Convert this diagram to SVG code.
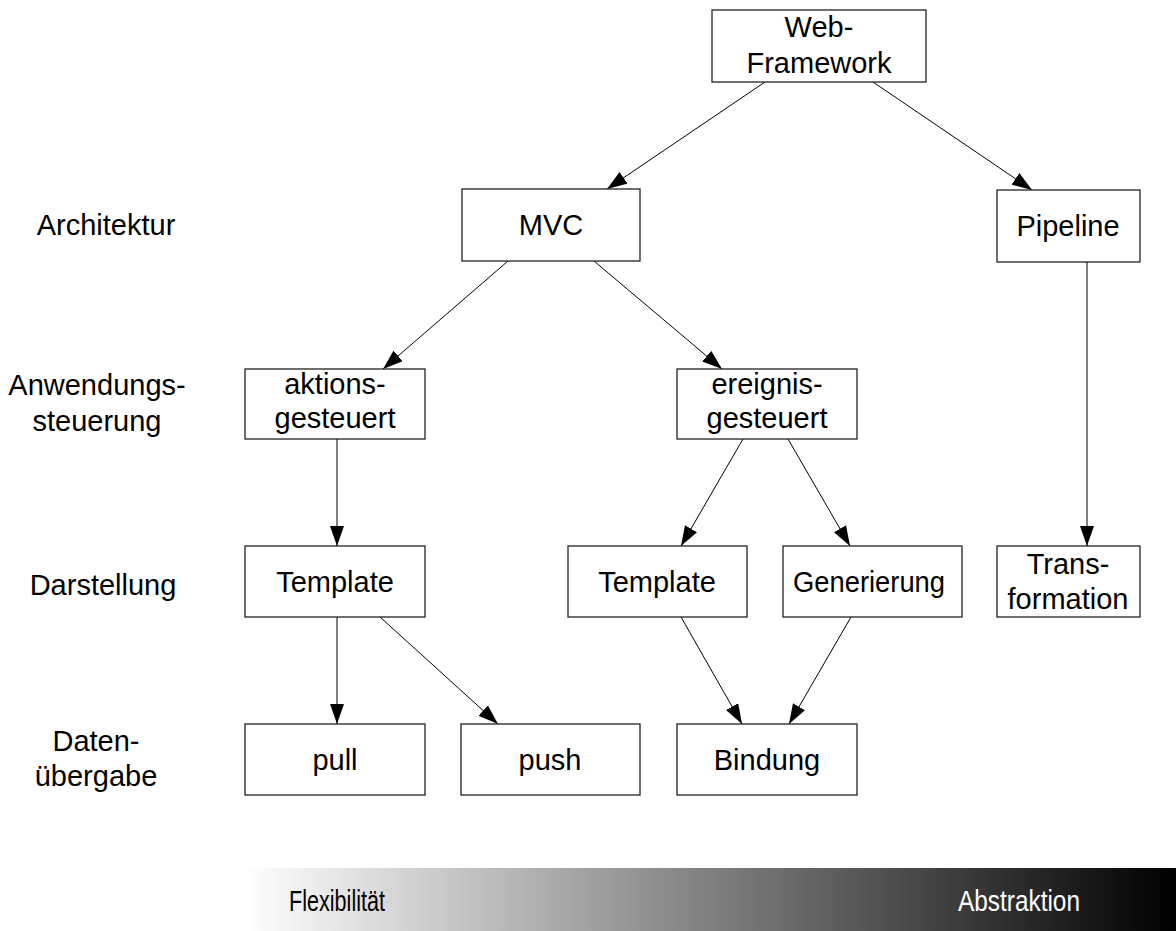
<svg xmlns="http://www.w3.org/2000/svg" width="1176" height="931" viewBox="0 0 1176 931">
  <defs>
    <marker id="arrow" markerUnits="userSpaceOnUse" markerWidth="20" markerHeight="14" refX="20" refY="7" orient="auto">
      <path d="M0,0 L20,7 L0,14 z" fill="#000"/>
    </marker>
    <linearGradient id="scale" gradientUnits="userSpaceOnUse" x1="245" y1="0" x2="1176" y2="0">
      <stop offset="0" stop-color="#ffffff"/>
      <stop offset="1" stop-color="#000000"/>
    </linearGradient>
    <style>
      text { font-family: "Liberation Sans", Arial, sans-serif; font-size: 29px; fill: #000; text-anchor: middle; }
      .box { fill: #fff; stroke: #222; stroke-width: 1.3; }
      .edge { stroke: #000; stroke-width: 1; fill: none; marker-end: url(#arrow); }
    </style>
  </defs>

  <rect width="1176" height="931" fill="#fff"/>

  <!-- level labels -->
  <g id="levels">
    <text x="106" y="235">Architektur</text>
    <text x="97" y="395">Anwendungs-</text>
    <text x="97" y="431">steuerung</text>
    <text x="103" y="595">Darstellung</text>
    <text x="96" y="751">Daten-</text>
    <text x="96" y="786">übergabe</text>
  </g>

  <!-- connectors -->
  <g id="connectors">
    <line class="edge" x1="765" y1="82" x2="607" y2="189"/>
    <line class="edge" x1="873" y1="82" x2="1032" y2="190"/>
    <line class="edge" x1="508" y1="261" x2="383" y2="369"/>
    <line class="edge" x1="594" y1="261" x2="722" y2="369"/>
    <line class="edge" x1="1087" y1="262" x2="1087" y2="546"/>
    <line class="edge" x1="337" y1="439" x2="337" y2="546"/>
    <line class="edge" x1="743" y1="439" x2="681" y2="546"/>
    <line class="edge" x1="788" y1="439" x2="850" y2="546"/>
    <line class="edge" x1="337" y1="617" x2="337" y2="724"/>
    <line class="edge" x1="380" y1="617" x2="498" y2="724"/>
    <line class="edge" x1="681" y1="617" x2="742" y2="724"/>
    <line class="edge" x1="851" y1="617" x2="789" y2="724"/>
  </g>

  <!-- nodes -->
  <g id="web-framework">
    <rect class="box" x="712" y="10" width="214" height="72"/>
    <text x="819" y="37">Web-</text>
    <text x="819" y="73">Framework</text>
  </g>
  <g id="mvc">
    <rect class="box" x="462" y="189" width="178" height="72"/>
    <text x="551" y="235">MVC</text>
  </g>
  <g id="pipeline">
    <rect class="box" x="997" y="190" width="143" height="72"/>
    <text x="1068" y="236">Pipeline</text>
  </g>
  <g id="aktionsgesteuert">
    <rect class="box" x="245" y="369" width="180" height="70"/>
    <text x="335" y="394">aktions-</text>
    <text x="335" y="428">gesteuert</text>
  </g>
  <g id="ereignisgesteuert">
    <rect class="box" x="677" y="369" width="180" height="70"/>
    <text x="767" y="394">ereignis-</text>
    <text x="767" y="428">gesteuert</text>
  </g>
  <g id="template-action">
    <rect class="box" x="245" y="546" width="180" height="71"/>
    <text x="335" y="592">Template</text>
  </g>
  <g id="template-event">
    <rect class="box" x="568" y="546" width="179" height="71"/>
    <text x="657" y="592">Template</text>
  </g>
  <g id="generierung">
    <rect class="box" x="783" y="546" width="179" height="71"/>
    <text x="869" y="592" textLength="152" lengthAdjust="spacingAndGlyphs">Generierung</text>
  </g>
  <g id="transformation">
    <rect class="box" x="997" y="546" width="143" height="71"/>
    <text x="1068" y="574">Trans-</text>
    <text x="1068" y="609">formation</text>
  </g>
  <g id="pull">
    <rect class="box" x="245" y="724" width="180" height="71"/>
    <text x="335" y="770">pull</text>
  </g>
  <g id="push">
    <rect class="box" x="461" y="724" width="179" height="71"/>
    <text x="550" y="770">push</text>
  </g>
  <g id="bindung">
    <rect class="box" x="677" y="724" width="180" height="71"/>
    <text x="767" y="770">Bindung</text>
  </g>

  <!-- flexibility / abstraction scale -->
  <g id="scale-bar">
    <rect x="245" y="868" width="931" height="63" fill="url(#scale)"/>
    <text x="337" y="911" font-size="27" textLength="96" lengthAdjust="spacingAndGlyphs">Flexibilität</text>
    <text x="1019" y="911" font-size="27" textLength="122" lengthAdjust="spacingAndGlyphs" style="fill:#fff">Abstraktion</text>
  </g>
</svg>
